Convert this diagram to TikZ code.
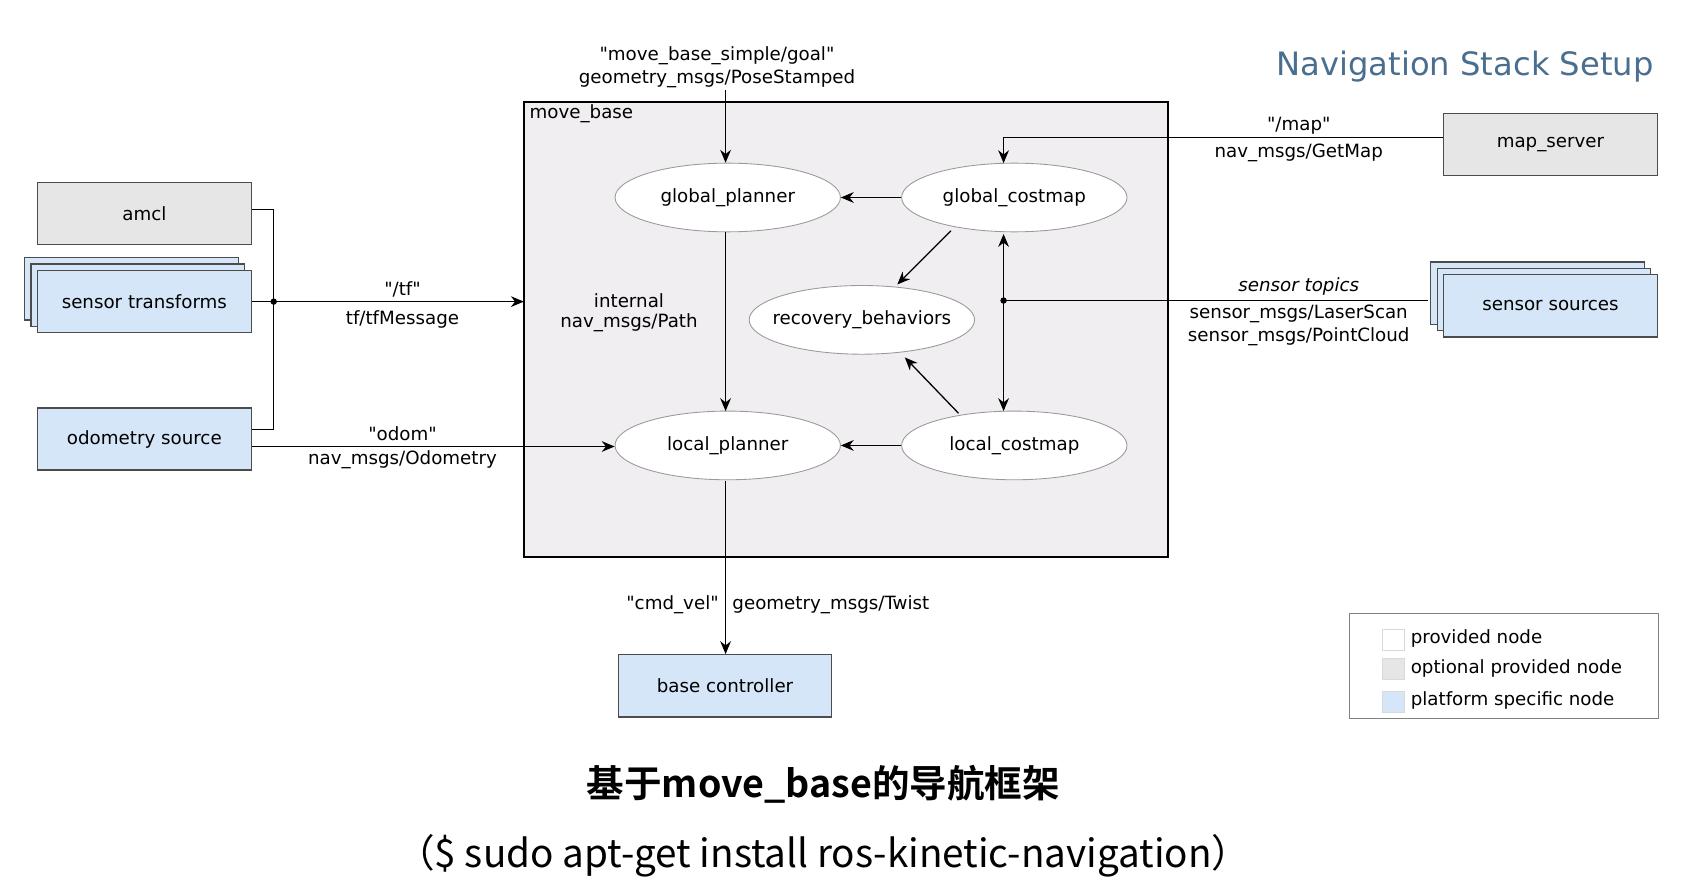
\documentclass[tikz,border=0pt]{standalone}
\usepackage{fontspec}
\setmainfont{DejaVu Sans}
\newfontfamily\qf{DejaVu Sans}[Mapping=none]
\newfontfamily\cjk{Noto Sans CJK SC}
\newfontfamily\cjkb{Noto Sans CJK SC}[BoldFont={* Bold}]
\usetikzlibrary{arrows.meta,shapes.geometric}
\definecolor{pgray}{HTML}{E6E6E6}
\definecolor{pblue}{HTML}{D5E6F8}
\definecolor{mbfill}{HTML}{F0EEF0}
\definecolor{ttl}{HTML}{4A6E8F}
\newcommand{\qq}{{\qf\symbol{34}}}
\begin{document}
\begin{tikzpicture}[x=0.5pt,y=-0.5pt,
  every node/.style={font=\fontsize{8.5}{10}\selectfont,inner sep=0pt},
  box/.style={draw=black!70,line width=0.6pt,minimum width=99.5pt,minimum height=29pt},
  ell/.style={ellipse,draw=black!40,fill=white,minimum width=105pt,minimum height=32pt,inner xsep=-9pt},
  arr/.style={-{Stealth[length=6pt,width=5pt]},line width=0.6pt},
  ln/.style={line width=0.6pt}]
\useasboundingbox (0,0) rectangle (1568,819);
% move_base
\draw[fill=mbfill,line width=1.2pt] (488,95) rectangle (1088,519);
\node[anchor=north west] (mbl) at (493,97) {move\_base};
% ellipses
\node[ell] (gp) at (678,184) {global\_planner};
\node[ell] (gc) at (945,184) {global\_costmap};
\node[ell] (rb) at (803,298) {recovery\_behaviors};
\node[ell] (lp) at (678,415) {local\_planner};
\node[ell] (lc) at (945,415) {local\_costmap};
% boxes
\node[box,fill=pgray] (amcl) at (134.5,199) {amcl};
\node[box,fill=pblue] at (122.5,269) {};
\node[box,fill=pblue] at (128.5,275) {};
\node[box,fill=pblue] (st) at (134.5,281) {sensor transforms};
\node[box,fill=pblue] (od) at (134.5,409) {odometry source};
\node[box,fill=pgray] (ms) at (1444.5,134.5) {map\_server};
\node[box,fill=pblue] at (1432.5,273) {};
\node[box,fill=pblue] at (1438.5,279) {};
\node[box,fill=pblue] (ss) at (1444.5,285) {sensor sources};
\node[box,fill=pblue] (bc) at (675.5,639) {base controller};
% legend
\node[draw=black!50,line width=0.5pt,minimum width=144pt,minimum height=48.5pt] (leg) at (1401,620.5) {};
\node[draw=black!15,fill=white,minimum size=10pt] (l1) at (1298,596) {};
\node[draw=black!15,fill=pgray,minimum size=10pt] (l2) at (1298,623) {};
\node[draw=black!15,fill=pblue,minimum size=10pt] (l3) at (1298,654) {};
\node[anchor=west] at (1314,595) {provided node};
\node[anchor=west] at (1314,623) {optional provided node};
\node[anchor=west] at (1314,653) {platform specific node};
% tf
\coordinate (j) at (255,281);
\draw[ln] (amcl.east|-0,195) -- (255,195) -- (255,400) -- (od.east|-0,400);
\draw[arr] (st.east) -- (488,281);
\fill (j) circle (3);
\node at (375,270) {\qq/tf\qq};
\node at (375,298) {tf/tfMessage};
\draw[arr] (od.east|-0,416) -- (lp.west|-0,416);
\node at (375,404) {\qq odom\qq};
\node at (375,428) {nav\_msgs/Odometry};
% goal
\coordinate (g0) at (676,84);
\draw[arr] (g0) -- (gp.north-|676,0);
\node at (668,52) {\qq move\_base\_simple/goal\qq};
\node at (668,73) {geometry\_msgs/PoseStamped};
% map
\draw[arr] (ms.west|-0,128) -- (935,128) -- (935,152);
\node at (1210,117) {\qq/map\qq};
\node at (1210,142) {nav\_msgs/GetMap};
% sensors
\coordinate (sj) at (935,280);
\draw[ln] (1330,280) -- (sj);
\fill (sj) circle (3);
\draw[arr,{Stealth[length=6pt,width=5pt]}-{Stealth[length=6pt,width=5pt]}] (935,218) -- (935,383);
\node at (1210,267) {\itshape sensor topics};
\node at (1210,292) {sensor\_msgs/LaserScan};
\node at (1210,314) {sensor\_msgs/PointCloud};
% internal
\draw[arr] (gc.west) -- (gp.east);
\draw[arr] (lc.west) -- (lp.east);
\draw[arr] (676,216) -- (676,383);
\node at (586,280) {internal};
\node at (586,301) {nav\_msgs/Path};
\draw[arr] (886,215) -- (836,265);
\draw[arr] (893,385) -- (843,333);
\draw[arr] (676,448) -- (bc.north-|676,0);
\node[anchor=east] at (670,563) {\qq cmd\_vel\qq};
\node[anchor=west] at (682,563) {geometry\_msgs/Twist};
% titles
\node[text=ttl,font=\fontsize{15}{18}\selectfont] at (1365,62) {Navigation Stack Setup};
\node[font=\cjkb\bfseries\fontsize{17.5}{20}\selectfont] at (767,731) {基于move\_base的导航框架};
\node[font=\cjk\fontsize{18}{22}\selectfont] at (767,797) {（\$ sudo apt-get install ros-kinetic-navigation）};
\end{tikzpicture}
\end{document}
